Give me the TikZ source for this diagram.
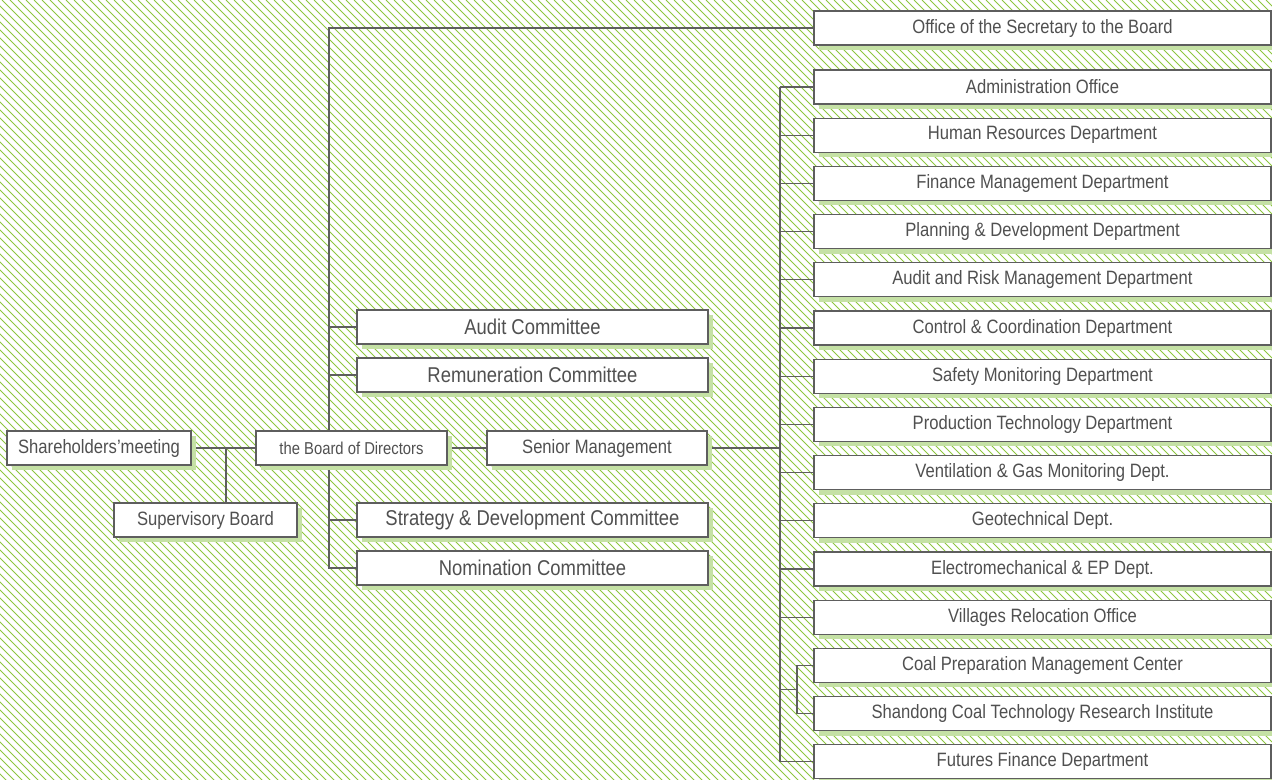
\documentclass[tikz,border=0pt]{standalone}
\usepackage{fontspec}
\setmainfont{Liberation Sans}
\newfontfamily\boxfont[FakeStretch=0.86]{Liberation Sans}
\usetikzlibrary{positioning}
\usetikzlibrary{shadows}
\usetikzlibrary{calc}
\definecolor{hatchgreen}{HTML}{8DC63F}
\definecolor{shadegreen}{HTML}{C5E1A5}
\definecolor{linegrey}{HTML}{5E5E5E}
\definecolor{textgrey}{HTML}{505050}
\pgfdeclarelayer{bg}
\pgfsetlayers{bg,main}
\tikzset{unit/.style={draw=linegrey,line width=0.75pt,fill=white,text=textgrey,inner sep=0pt,
    minimum height=0.68cm,font=\boxfont\fontsize{11}{13}\selectfont,
    general shadow={fill=shadegreen,shadow xshift=0.1cm,shadow yshift=-0.1cm}}}
\tikzset{cttee/.style={unit,minimum width=7.02cm,font=\boxfont\fontsize{12.2}{14}\selectfont}}
\tikzset{dept/.style={unit,minimum width=9.14cm}}
\tikzset{link/.style={draw=linegrey,line width=0.75pt}}
\tikzset{hatch/.style={draw=hatchgreen,line width=0.5pt}}

\begin{document}
\begin{tikzpicture}[x=0.02cm,y=-0.02cm]
        \useasboundingbox (0,0) rectangle (1272,779);

        \node[unit,minimum width=3.68cm] (sh) at (99,448) {Shareholders’meeting};
        \node[unit,minimum width=3.66cm] (sup) at (205.5,520) {Supervisory Board};
        \node[unit,minimum width=3.82cm,font=\boxfont\fontsize{9.8}{12}\selectfont] (bod) at (351.5,448) {the Board of Directors};
        \node[unit,minimum width=4.4cm] (sen) at (597,448) {Senior Management};

        \node[cttee] (aud) at (532.5,327) {Audit Committee};
        \node[cttee] (rem) at (532.5,375) {Remuneration Committee};
        \node[cttee] (stg) at (532.5,520) {Strategy \& Development Committee};
        \node[cttee] (nom) at (532.5,568) {Nomination Committee};

        \node[dept] (off) at (1042.5,28) {Office of the Secretary to the Board};
        \foreach \t [count=\i] in {Administration Office,Human Resources Department,
            Finance Management Department,Planning \& Development Department,
            Audit and Risk Management Department,Control \& Coordination Department,
            Safety Monitoring Department,Production Technology Department,
            Ventilation \& Gas Monitoring Dept.,Geotechnical Dept.,
            Electromechanical \& EP Dept.,Villages Relocation Office,
            Coal Preparation Management Center,Shandong Coal Technology Research Institute,
            Futures Finance Department}
            \node[dept] (d\i) at (1042.5,{87+48.2*(\i-1)}) {\t};

        \coordinate (sv) at (226,448);
        \coordinate (bk) at (329,0);
        \coordinate (tk) at (780,0);
        \coordinate (sk) at (797,0);
        \coordinate (cm) at ($(d13.west)!0.5!(d14.west)$);

        \begin{pgfonlayer}{bg}
        % background hatching
        \begin{scope}
            \clip (0,0) rectangle (1272,779);
            \foreach \c in {-790,-782,...,1272}
                \draw[hatch] (\c,0) -- ++(790,790);
        \end{scope}

        \draw[link] (sh.east) -- (bod.west);
        \draw[link] (sv) -- (sv |- sup.north);
        \draw[link] (bod.east) -- (sen.west);

        \draw[link] (off.west) -| (bk |- nom.west) -- (nom.west);
        \foreach \n in {aud,rem,stg}
            \draw[link] (bk |- \n.west) -- (\n.west);

        \draw[link] (sen.east) -- (tk |- sen.east);
        \draw[link] (tk |- d1.west) -- (tk |- d15.west);
        \foreach \i in {1,...,12,15}
            \draw[link] (tk |- d\i.west) -- (d\i.west);
        \draw[link] (d13.west) -- (sk |- d13.west) -- (sk |- d14.west) -- (d14.west);
        \draw[link] (tk |- cm) -- (sk |- cm);
        \end{pgfonlayer}

    \end{tikzpicture}
\end{document}
